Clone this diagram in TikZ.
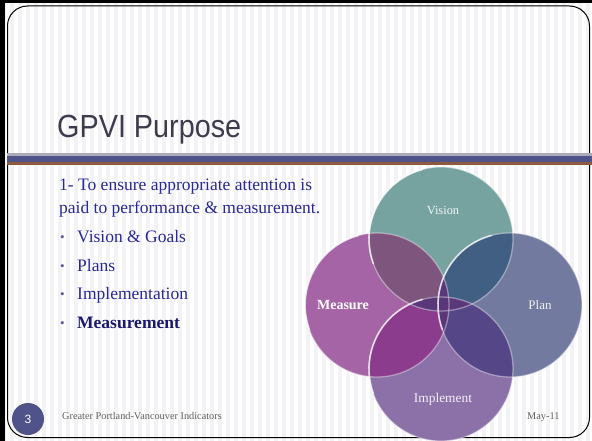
\documentclass[tikz,border=0pt]{standalone}
\usepackage{fontspec}
\setmainfont{Liberation Serif}
\newfontfamily\titlefont{Liberation Sans}
\definecolor{stripe}{RGB}{243,243,245}
\definecolor{bandgray}{RGB}{170,170,185}
\definecolor{bandblue}{RGB}{80,82,138}
\definecolor{bandbrown}{RGB}{140,90,60}
\definecolor{titlecol}{RGB}{60,60,78}
\definecolor{bodycol}{RGB}{40,40,150}
\definecolor{boldcol}{RGB}{25,25,110}
\definecolor{bulcol}{RGB}{90,90,150}
\definecolor{footcol}{RGB}{95,95,95}
\definecolor{cvis}{RGB}{118,163,160}
\definecolor{cmea}{RGB}{165,100,165}
\definecolor{cpla}{RGB}{115,122,160}
\definecolor{cimp}{RGB}{140,112,168}
\definecolor{cvm}{RGB}{125,85,125}
\definecolor{cvp}{RGB}{65,95,130}
\definecolor{cmi}{RGB}{140,60,140}
\definecolor{cpi}{RGB}{85,70,135}
\definecolor{cvi}{RGB}{80,70,120}
\definecolor{cmp}{RGB}{95,65,120}
\definecolor{ccen}{RGB}{90,55,120}
\tikzset{
  bodytext/.style={anchor=base west, inner sep=0, text=bodycol, font=\fontsize{17.5}{20}\selectfont},
  bultext/.style={anchor=base west, inner sep=0, text=bulcol, font=\fontsize{13}{15}\selectfont},
  circlabel/.style={inner sep=0, font=\fontsize{13}{15}\selectfont},
  foottext/.style={anchor=base west, inner sep=0, text=footcol, font=\fontsize{10.3}{12}\selectfont},
  rim/.style={draw=white, draw opacity=0.4, line width=1.3pt},
  gloss/.style={draw=white, draw opacity=0.7, line width=1.6pt, line cap=round}
}
\begin{document}
\begin{tikzpicture}[x=1pt,y=-1pt]
\useasboundingbox (0,0) rectangle (592,441);
% background with stripes
\fill[white] (0,0) rectangle (592,441);
\foreach \i in {0,...,73} \fill[stripe] (\i*8+2,0) rectangle (\i*8+6,441);
\fill[black] (0,0) rectangle (5,441);
\fill[black] (0,0) rectangle (592,3);
% frame
\draw[black, line width=1pt, rounded corners=20pt] (7.5,6) rectangle (589.5,437.5);
% bands
\fill[bandgray] (7,153) rectangle (592,156);
\fill[bandblue] (7,156) rectangle (592,162);
\fill[bandbrown] (7,162) rectangle (592,165);
% title
\node[anchor=base west, inner sep=0, text=titlecol, font=\titlefont\fontsize{32}{36}\selectfont, xscale=0.9] (title) at (57,138) {GPVI Purpose};
% body text
\node[bodytext] (l1) at (59,190) {1- To ensure appropriate attention is};
\node[bodytext] (l2) at (59,213) {paid to performance \& measurement.};
\node[bultext] (b1) at (60,241) {\textbullet};
\node[bultext] (b2) at (60,270) {\textbullet};
\node[bultext] (b3) at (60,298) {\textbullet};
\node[bultext] (b4) at (60,327) {\textbullet};
\node[bodytext] (t1) at (77,242) {Vision \& Goals};
\node[bodytext] (t2) at (77,271) {Plans};
\node[bodytext] (t3) at (77,299) {Implementation};
\node[bodytext, text=boldcol] (t4) at (77,328) {\textbf{Measurement}};
% circles
\coordinate (cV) at (441,239);
\coordinate (cM) at (377,305);
\coordinate (cP) at (510,305);
\coordinate (cI) at (441,369);
\def\R{72pt}
\fill[cvis] (cV) circle (\R);
\fill[cmea] (cM) circle (\R);
\fill[cpla] (cP) circle (\R);
\fill[cimp] (cI) circle (\R);
% pairwise overlaps
\begin{scope}\clip (cV) circle (\R); \fill[cvm] (cM) circle (\R); \end{scope}
\begin{scope}\clip (cV) circle (\R); \fill[cvp] (cP) circle (\R); \end{scope}
\begin{scope}\clip (cM) circle (\R); \fill[cmi] (cI) circle (\R); \end{scope}
\begin{scope}\clip (cP) circle (\R); \fill[cpi] (cI) circle (\R); \end{scope}
\begin{scope}\clip (cV) circle (\R); \fill[cvi] (cI) circle (\R); \end{scope}
\begin{scope}\clip (cM) circle (\R); \fill[cmp] (cP) circle (\R); \end{scope}
% triple overlaps
\begin{scope}\clip (cV) circle (\R); \clip (cM) circle (\R); \fill[ccen] (cP) circle (\R); \end{scope}
\begin{scope}\clip (cV) circle (\R); \clip (cM) circle (\R); \fill[ccen] (cI) circle (\R); \end{scope}
\begin{scope}\clip (cV) circle (\R); \clip (cP) circle (\R); \fill[ccen] (cI) circle (\R); \end{scope}
\begin{scope}\clip (cM) circle (\R); \clip (cP) circle (\R); \fill[ccen] (cI) circle (\R); \end{scope}
% rims
\draw[rim] (cV) circle (\R);
\draw[rim] (cM) circle (\R);
\draw[rim] (cP) circle (\R);
\draw[rim] (cI) circle (\R);
% glossy highlights (lower-left edges)
\draw[gloss] ([shift={(105:\R)}]cV) arc[start angle=105, end angle=200, radius=\R];
\draw[gloss] ([shift={(105:\R)}]cM) arc[start angle=105, end angle=200, radius=\R];
\draw[gloss] ([shift={(105:\R)}]cP) arc[start angle=105, end angle=200, radius=\R];
\draw[gloss] ([shift={(105:\R)}]cI) arc[start angle=105, end angle=200, radius=\R];
% labels
\node[circlabel, text=white!90!cvis, font=\fontsize{12.4}{14}\selectfont] (lv) at (443,210) {Vision};
\node[circlabel, text=white, font=\fontsize{14}{16}\selectfont\bfseries] (lm) at (343,305) {Measure};
\node[circlabel, text=white!90!cpla] (lp) at (540,305) {Plan};
\node[circlabel, text=white!90!cimp, font=\fontsize{13.4}{15}\selectfont] (li) at (443,399) {Implement};
% footer
\node[circle, fill=bandblue, minimum size=32pt, inner sep=0, text=white, font=\titlefont\fontsize{12}{14}\selectfont] (num) at (28,419) {3};
\node[foottext] (foot) at (62,419) {Greater Portland-Vancouver Indicators};
\node[foottext] (date) at (527,419) {May-11};
\end{tikzpicture}
\end{document}
